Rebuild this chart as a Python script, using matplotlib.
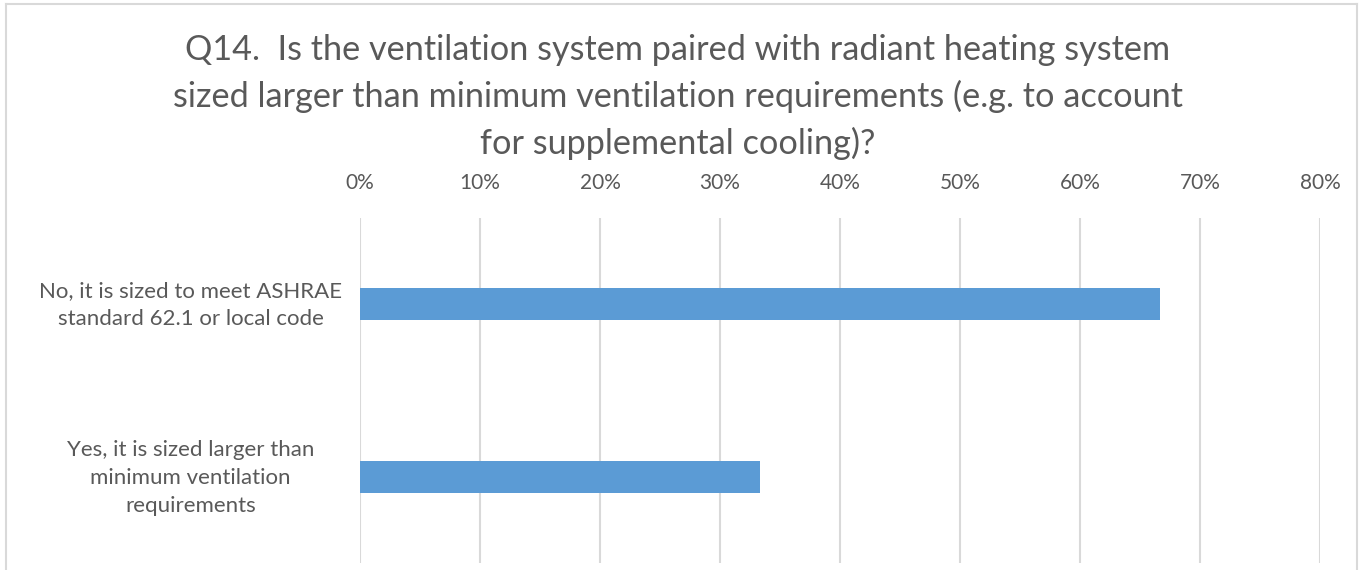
import matplotlib
matplotlib.use('Agg')
import matplotlib.pyplot as plt
from matplotlib.lines import Line2D
from matplotlib.transforms import ScaledTranslation
import numpy as np

# survey answers, top to bottom
categories = ['No, it is sized to meet ASHRAE\nstandard 62.1 or local code',
              'Yes, it is sized larger than\nminimum ventilation\nrequirements']
shares = [66.67, 33.33]  # percent of respondents
xticks = [0, 10, 20, 30, 40, 50, 60, 70, 80]
title = ('Q14.  Is the ventilation system paired with radiant heating system\n'
         'sized larger than minimum ventilation requirements (e.g. to account\n'
         'for supplemental cooling)?')

W, H = 1361, 570
plt.rcParams['font.family'] = ['Lato', 'DejaVu Sans']
txt = '#595959'
grid = '#d9d9d9'

fig = plt.figure(figsize=(W/100, H/100), dpi=100)
ax = fig.add_axes([360/W, (H-563)/H, 960/W, 345/H])

y = np.arange(len(categories))
ax.barh(y, shares, height=0.186, color='#5b9bd5', zorder=3)
ax.set_ylim(len(categories) - 0.5, -0.5)
ax.set_xlim(0, 80)
ax.set_xticks(xticks)
ax.set_xticklabels(['%d%%' % t for t in xticks])
ax.xaxis.tick_top()
ax.set_yticks(y)
ax.set_yticklabels(categories, ha='center', linespacing=1.5)
ax.tick_params(axis='y', length=0, pad=122, labelsize=16, labelcolor=txt)
ax.tick_params(axis='x', length=0, pad=18, labelsize=15, labelcolor=txt)
ax.grid(axis='x', color=grid, linewidth=1.5, zorder=0)
for s in ax.spines.values():
    s.set_visible(False)

# nudge category labels up a little
shift = ScaledTranslation(0, 0.05, fig.dpi_scale_trans)
for lab in ax.get_yticklabels():
    lab.set_transform(lab.get_transform() + shift)

fig.text(678/W, 1 - 97/H, title, ha='center', va='center', fontsize=24.7,
         color=txt, linespacing=1.52)

# chart frame, bottom edge is cut off in the source
for xs, ys in [([6, 6], [4, 570]), ([6, 1357], [4, 4]), ([1357, 1357], [4, 570])]:
    fig.add_artist(Line2D([v/W for v in xs], [1 - v/H for v in ys],
                          color=grid, linewidth=1.5))

fig.savefig('out.png', dpi=100, facecolor='white')
